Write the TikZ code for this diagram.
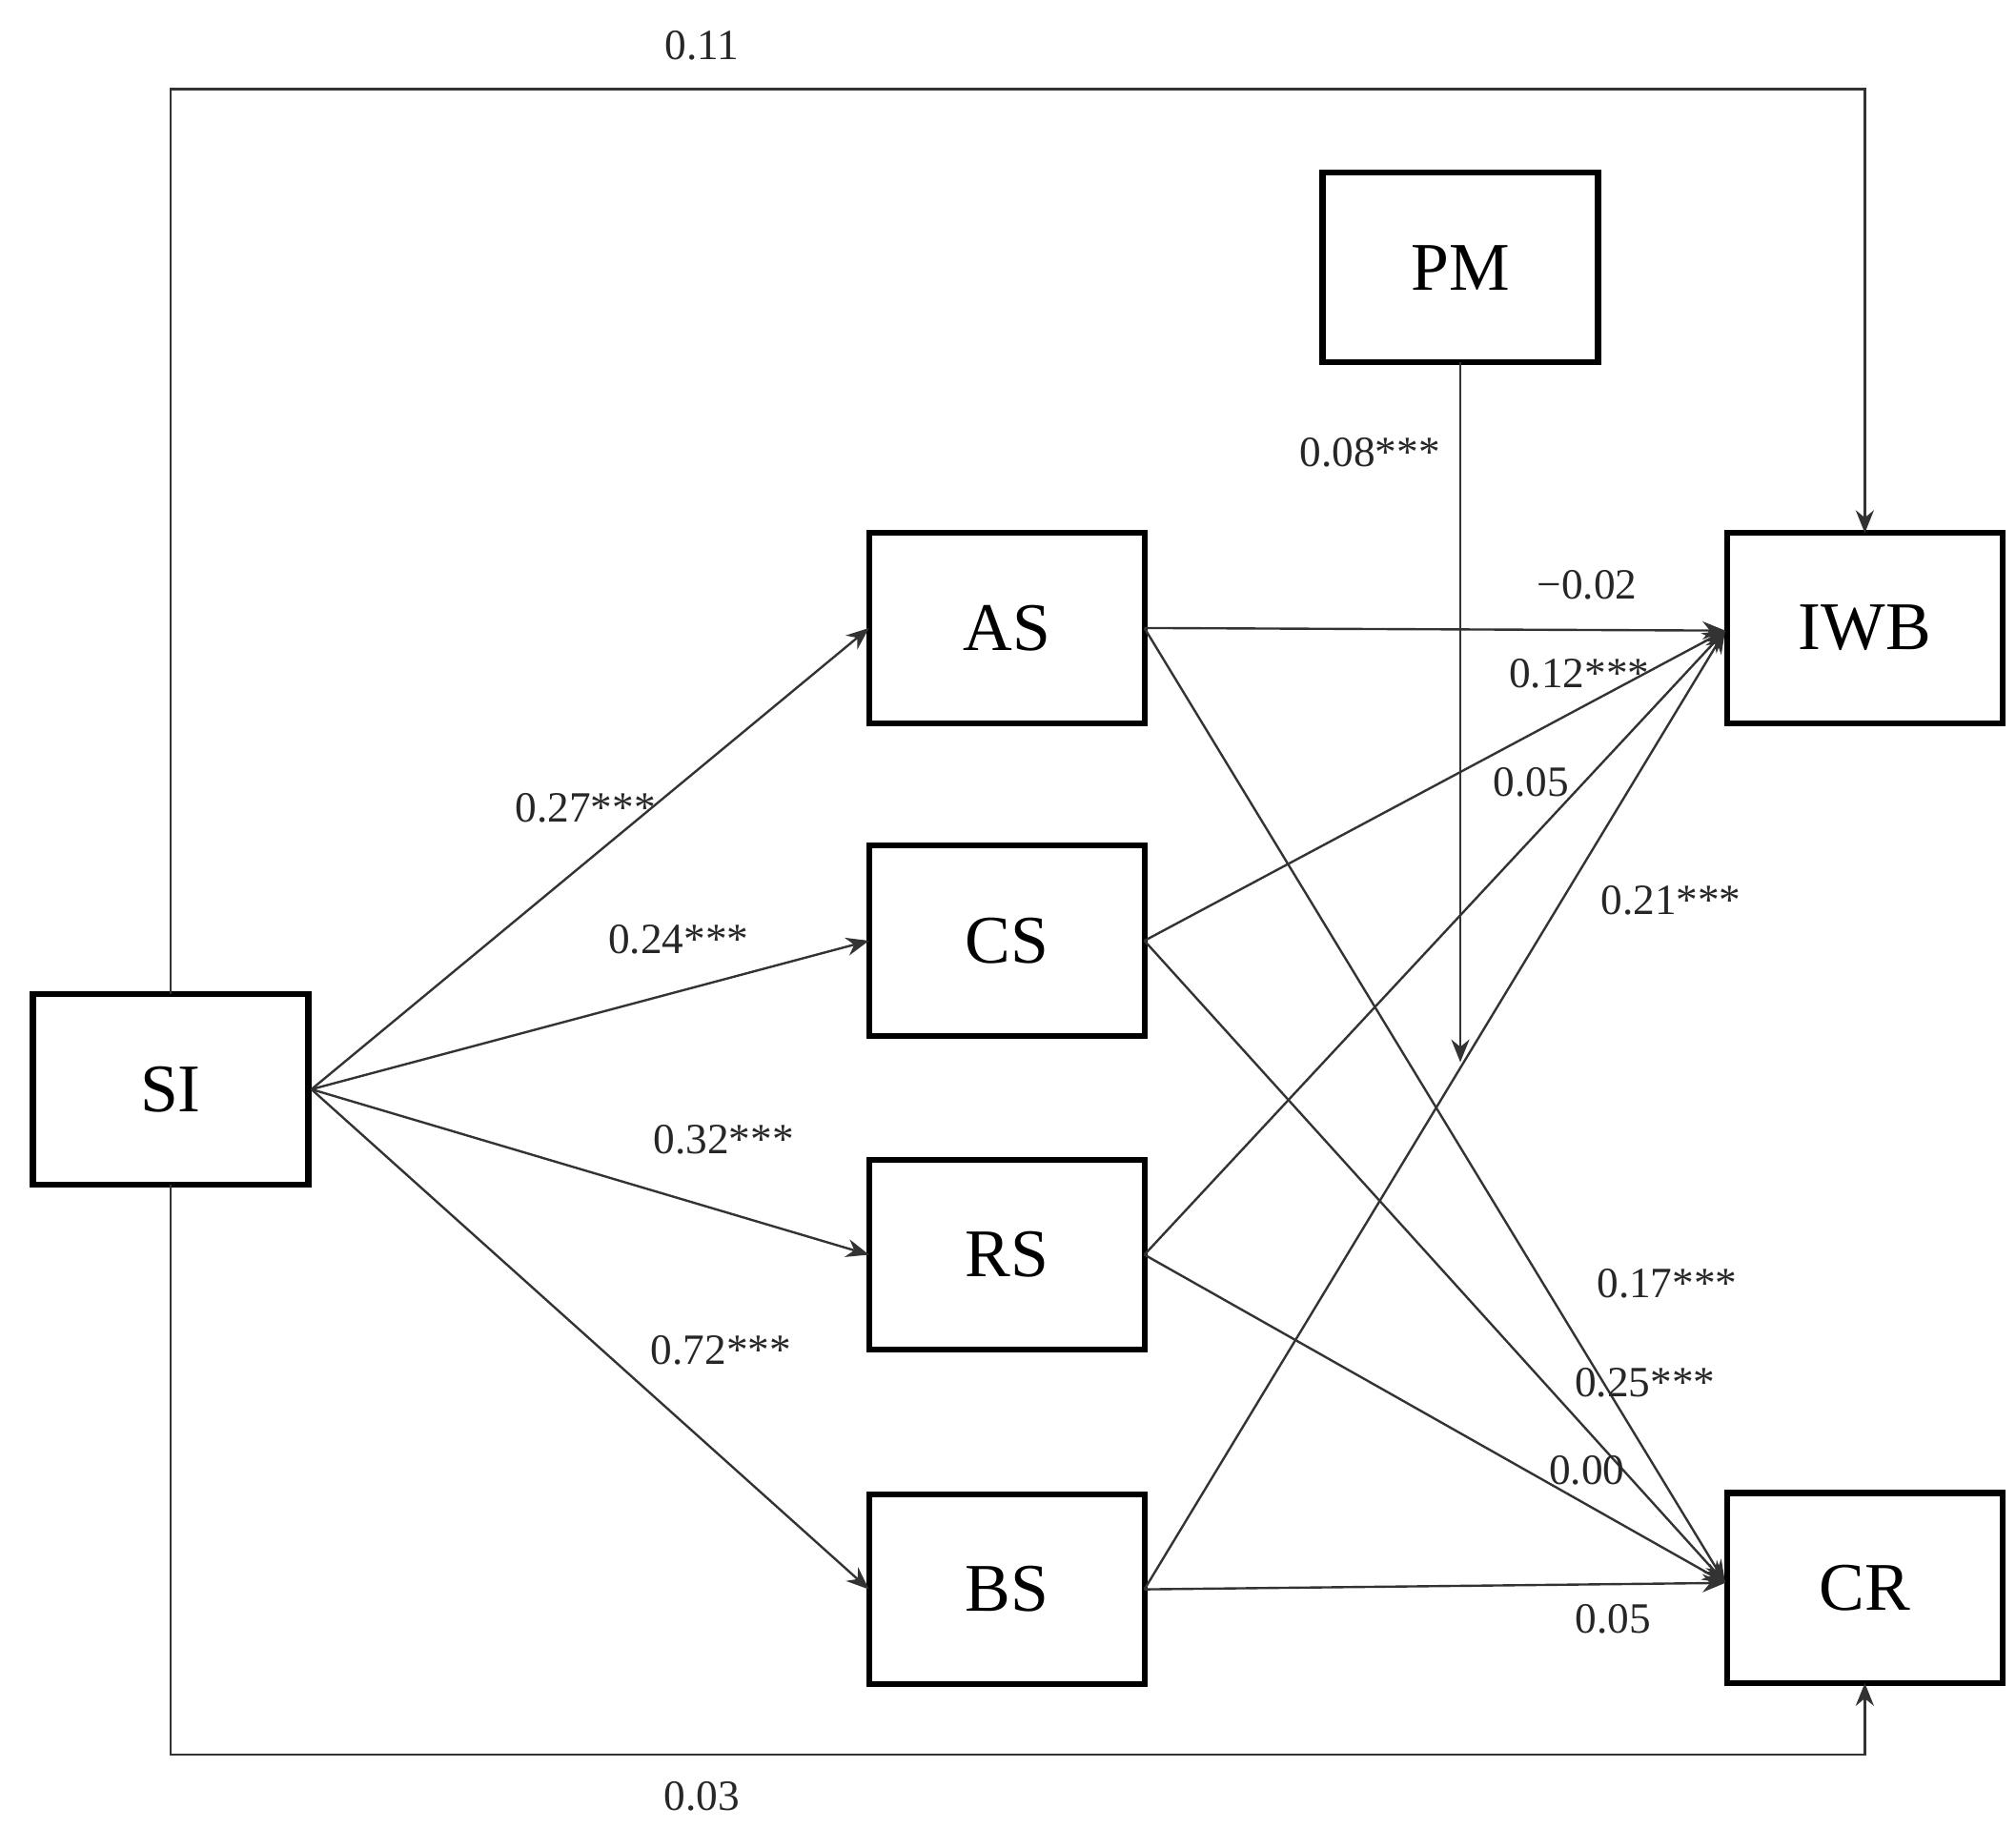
\documentclass[tikz,border=0pt]{standalone}
\usepackage{fontspec}
\setmainfont{Liberation Serif}
\usetikzlibrary{arrows.meta}
\begin{document}
\begin{tikzpicture}[x=0.01cm,y=-0.01cm,
 box/.style={draw,line width=1.3pt,minimum width=2.13cm,minimum height=1.47cm,inner sep=0pt,outer sep=0pt,font=\fontsize{15}{18}\selectfont},
 lab/.style={font=\fontsize{9.5}{11}\selectfont,text=black!85,inner sep=1pt},
 e/.style={draw=black!80,line width=0.5pt,-{Stealth[length=5pt,width=4pt]}}]
\useasboundingbox (0,0) rectangle (1560,1414);
\node[box] (SI) at (132,843) {SI};
\node[box] (AS) at (779,486) {AS};
\node[box] (CS) at (779,728) {CS};
\node[box] (RS) at (779,971) {RS};
\node[box] (BS) at (779,1230) {BS};
\node[box] (PM) at (1130,207) {PM};
\node[box] (IWB) at (1443,486) {IWB};
\node[box] (CR) at (1443,1229) {CR};
\coordinate (si) at (241,843);
\coordinate (iw) at (1335,488);
\coordinate (cr) at (1335,1225);
\draw[e] (si) -- (AS.west);
\draw[e] (si) -- (CS.west);
\draw[e] (si) -- (RS.west);
\draw[e] (si) -- (BS.west);
\foreach \n in {AS,CS,RS,BS}{\draw[e] (\n.east) -- (iw); \draw[e] (\n.east) -- (cr);}
\draw[e] (SI.north) |- (1443,69) -- (IWB.north);
\draw[e] (SI.south) |- (1443,1358) -- (CR.south);
\coordinate (pmend) at (1130,822);
\draw[e] (PM.south) -- (pmend);
\node[lab] at (543,35) {0.11};
\node[lab] at (543,1390) {0.03};
\node[lab] at (1060,350) {0.08***};
\node[lab] at (1228,453) {−0.02};
\node[lab] at (1222,521) {0.12***};
\node[lab] at (1185,605) {0.05};
\node[lab] at (1293,697) {0.21***};
\node[lab] at (453,625) {0.27***};
\node[lab] at (525,727) {0.24***};
\node[lab] at (560,882) {0.32***};
\node[lab] at (558,1045) {0.72***};
\node[lab] at (1290,993) {0.17***};
\node[lab] at (1273,1070) {0.25***};
\node[lab] at (1228,1138) {0.00};
\node[lab] at (1248,1253) {0.05};
\end{tikzpicture}
\end{document}
